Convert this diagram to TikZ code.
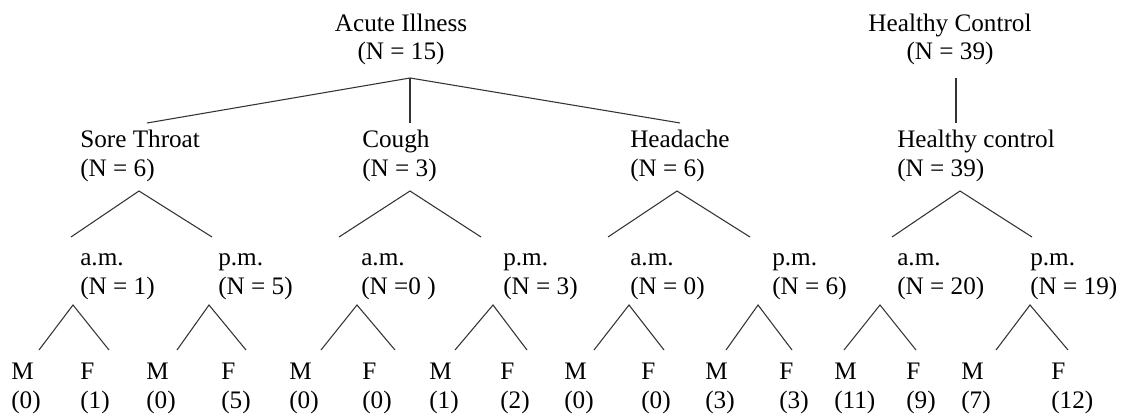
\documentclass[tikz,border=0pt]{standalone}
\usepackage{fontspec}
\setmainfont{Liberation Serif}
\usepackage{tikz}
\usetikzlibrary{positioning}

\begin{document}
\begin{tikzpicture}[
    x=0.75pt, y=-0.75pt,
    lbl/.style={anchor=base west, inner sep=0pt, align=left,
                font=\fontsize{18.9}{21.4}\selectfont},
    root/.style={lbl, anchor=base, align=center},
    link/.style={line width=0.8pt, black!80},
]
\useasboundingbox (0,0) rectangle (1123,417);

% Groups (base = last line)
\node[root] (ai)  at (401,60) {Acute Illness\\(N = 15)};
\node[root] (hc0) at (950,60) {Healthy Control\\(N = 39)};

% Symptoms
\node[lbl] (st) at (80,176)  {Sore Throat\\(N = 6)};
\node[lbl] (co) at (362,176) {Cough\\(N = 3)};
\node[lbl] (hd) at (630,176) {Headache\\(N = 6)};
\node[lbl] (hc) at (897,176) {Healthy control\\(N = 39)};

% Time of day
\node[lbl] (st-am) at (80,294)   {a.m.\\(N = 1)};
\node[lbl] (st-pm) at (218,294)  {p.m.\\(N = 5)};
\node[lbl] (co-am) at (361,294)  {a.m.\\(N =0 )};
\node[lbl] (co-pm) at (503,294)  {p.m.\\(N = 3)};
\node[lbl] (hd-am) at (630,294)  {a.m.\\(N = 0)};
\node[lbl] (hd-pm) at (772,294)  {p.m.\\(N = 6)};
\node[lbl] (hc-am) at (897,294)  {a.m.\\(N = 20)};
\node[lbl] (hc-pm) at (1030,294) {p.m.\\(N = 19)};

% Sex
\node[lbl] (st-am-m) at (11,408)   {M\\(0)};
\node[lbl] (st-am-f) at (80,408)   {F\\(1)};
\node[lbl] (st-pm-m) at (146,408)  {M\\(0)};
\node[lbl] (st-pm-f) at (221,408)  {F\\(5)};
\node[lbl] (co-am-m) at (289,408)  {M\\(0)};
\node[lbl] (co-am-f) at (362,408)  {F\\(0)};
\node[lbl] (co-pm-m) at (429,408)  {M\\(1)};
\node[lbl] (co-pm-f) at (500,408)  {F\\(2)};
\node[lbl] (hd-am-m) at (564,408)  {M\\(0)};
\node[lbl] (hd-am-f) at (641,408)  {F\\(0)};
\node[lbl] (hd-pm-m) at (705,408)  {M\\(3)};
\node[lbl] (hd-pm-f) at (779,408)  {F\\(3)};
\node[lbl] (hc-am-m) at (834,408)  {M\\(11)};
\node[lbl] (hc-am-f) at (906,408)  {F\\(9)};
\node[lbl] (hc-pm-m) at (961,408)  {M\\(7)};
\node[lbl] (hc-pm-f) at (1051,408) {F\\(12)};

% Branch points
\coordinate (ai-out)  at (410,78);
\coordinate (hc0-out) at (956,78);
\coordinate (st-in) at (147,123);  \coordinate (st-out) at (139,191);
\coordinate (co-in) at (410,123);  \coordinate (co-out) at (410,191);
\coordinate (hd-in) at (680,123);  \coordinate (hd-out) at (677,191);
\coordinate (hc-in) at (956,123);  \coordinate (hc-out) at (960,191);
\coordinate (st-am-in) at (71,237);   \coordinate (st-am-out) at (73,305);
\coordinate (st-pm-in) at (212,237);  \coordinate (st-pm-out) at (209,305);
\coordinate (co-am-in) at (339,237);  \coordinate (co-am-out) at (357,305);
\coordinate (co-pm-in) at (481,237);  \coordinate (co-pm-out) at (493,305);
\coordinate (hd-am-in) at (608,237);  \coordinate (hd-am-out) at (629,305);
\coordinate (hd-pm-in) at (750,237);  \coordinate (hd-pm-out) at (758,305);
\coordinate (hc-am-in) at (892,237);  \coordinate (hc-am-out) at (880,305);
\coordinate (hc-pm-in) at (1032,237); \coordinate (hc-pm-out) at (1030,305);
\coordinate (st-am-m-in) at (39,350);   \coordinate (st-am-f-in) at (109,350);
\coordinate (st-pm-m-in) at (177,350);  \coordinate (st-pm-f-in) at (246,350);
\coordinate (co-am-m-in) at (321,350);  \coordinate (co-am-f-in) at (395,350);
\coordinate (co-pm-m-in) at (455,350);  \coordinate (co-pm-f-in) at (527,350);
\coordinate (hd-am-m-in) at (594,350);  \coordinate (hd-am-f-in) at (664,350);
\coordinate (hd-pm-m-in) at (726,350);  \coordinate (hd-pm-f-in) at (792,350);
\coordinate (hc-am-m-in) at (844,350);  \coordinate (hc-am-f-in) at (916,350);
\coordinate (hc-pm-m-in) at (996,350);  \coordinate (hc-pm-f-in) at (1068,350);

% Links
\draw[link] (ai-out) -- (st-in);
\draw[link] (ai-out) -- (co-in);
\draw[link] (ai-out) -- (hd-in);
\draw[link] (hc0-out) -- (hc-in);
\draw[link] (st-am-in) -- (st-out) -- (st-pm-in);
\draw[link] (co-am-in) -- (co-out) -- (co-pm-in);
\draw[link] (hd-am-in) -- (hd-out) -- (hd-pm-in);
\draw[link] (hc-am-in) -- (hc-out) -- (hc-pm-in);
\draw[link] (st-am-m-in) -- (st-am-out) -- (st-am-f-in);
\draw[link] (st-pm-m-in) -- (st-pm-out) -- (st-pm-f-in);
\draw[link] (co-am-m-in) -- (co-am-out) -- (co-am-f-in);
\draw[link] (co-pm-m-in) -- (co-pm-out) -- (co-pm-f-in);
\draw[link] (hd-am-m-in) -- (hd-am-out) -- (hd-am-f-in);
\draw[link] (hd-pm-m-in) -- (hd-pm-out) -- (hd-pm-f-in);
\draw[link] (hc-am-m-in) -- (hc-am-out) -- (hc-am-f-in);
\draw[link] (hc-pm-m-in) -- (hc-pm-out) -- (hc-pm-f-in);
\end{tikzpicture}
\end{document}
